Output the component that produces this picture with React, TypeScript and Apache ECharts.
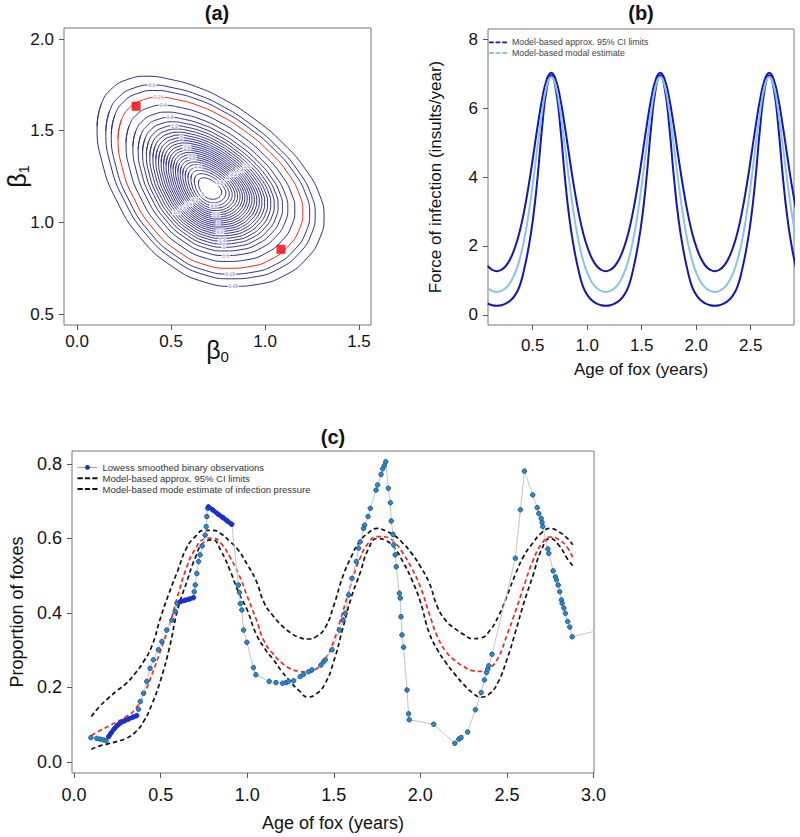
import React, { useEffect, useRef } from "react";
import * as echarts from "echarts";

const FONT = "'Liberation Sans', Arial, Helvetica, sans-serif";

// ---------- Panel (a): likelihood contours ----------
const contourCenter = [0.707, 1.18];
const contourPeak = 5.25;
const contourLevels = [0.05, 0.1, 0.15, 0.24, 0.4, 0.6, 0.8, 1, 1.2, 1.4, 1.6, 1.8, 2, 2.2, 2.4, 2.6, 2.8, 3, 3.2, 3.4, 3.6, 3.8, 4, 4.2, 4.4, 4.6, 4.8, 5];
const highlightLevel = 0.24;
// which contour labels sit on which side of the peak
const labelTopLevels = [0.1, 0.24, 0.4, 0.8, 1.2, 2, 2.8, 3.6, 4.4];
const labelBottomLevels = [0.05, 0.15, 0.6, 1, 1.4, 2.2, 3, 3.8, 4.6];
const labelUpperRightLevels = [1.6, 2.4, 3.2, 4, 4.8];
const labelLowerLeftLevels = [1.8, 2.6, 3.4, 4.2, 5];
// outermost (0.05) contour
const outerBeta0 = [0.106, 0.128, 0.186, 0.271, 0.372, 0.495, 0.628, 0.771, 0.931, 1.096, 1.223, 1.293, 1.314, 1.293, 1.223, 1.106, 0.963, 0.83, 0.681, 0.505, 0.335, 0.207, 0.133];
const outerBeta1 = [1.524, 1.644, 1.731, 1.78, 1.797, 1.78, 1.742, 1.676, 1.573, 1.431, 1.278, 1.142, 1.033, 0.918, 0.804, 0.711, 0.662, 0.651, 0.673, 0.76, 0.918, 1.125, 1.327];
const ciBeta0 = [0.314, 1.085];
const ciBeta1 = [1.633, 0.853];

// ---------- Panel (b): force of infection ----------
const ageB = [0.0867, 0.1283, 0.17, 0.2117, 0.2533, 0.295, 0.3367, 0.3783, 0.42, 0.4617, 0.5033, 0.545, 0.5867, 0.6283, 0.67, 0.7117, 0.7533, 0.795, 0.8367, 0.8783, 0.92, 0.9617, 1.0033, 1.045, 1.0867, 1.1283, 1.17, 1.2117, 1.2533, 1.295, 1.3367, 1.3783, 1.42, 1.4617, 1.5033, 1.545, 1.5867, 1.6283, 1.67, 1.7117, 1.7533, 1.795, 1.8367, 1.8783, 1.92, 1.9617, 2.0033, 2.045, 2.0867, 2.1283, 2.17, 2.2117, 2.2533, 2.295, 2.3367, 2.3783, 2.42, 2.4617, 2.5033, 2.545, 2.5867, 2.6283, 2.67, 2.7117, 2.7533, 2.795, 2.8367, 2.8783, 2.92];
const foiUpper = [1.42, 1.31, 1.27, 1.31, 1.42, 1.63, 1.95, 2.39, 2.99, 3.73, 4.58, 5.47, 6.26, 6.82,
  7.02, 6.82, 6.26, 5.47, 4.58, 3.73, 2.99, 2.39, 1.95, 1.63, 1.42, 1.31, 1.27,
  1.31, 1.42, 1.63, 1.95, 2.39, 2.99, 3.73, 4.58, 5.47, 6.26, 6.82,
  7.02, 6.82, 6.26, 5.47, 4.58, 3.73, 2.99, 2.39, 1.95, 1.63, 1.42, 1.31, 1.27,
  1.31, 1.42, 1.63, 1.95, 2.39, 2.99, 3.73, 4.58, 5.47, 6.26, 6.82,
  7.02, 6.82, 6.26, 5.47, 4.58, 3.73, 2.99];
const foiMode = [0.78, 0.7, 0.67, 0.7, 0.78, 0.94, 1.2, 1.59, 2.15, 2.91, 3.85, 4.9, 5.9, 6.63,
  6.9, 6.63, 5.9, 4.9, 3.85, 2.91, 2.15, 1.59, 1.2, 0.94, 0.78, 0.7, 0.67,
  0.7, 0.78, 0.94, 1.2, 1.59, 2.15, 2.91, 3.85, 4.9, 5.9, 6.63,
  6.9, 6.63, 5.9, 4.9, 3.85, 2.91, 2.15, 1.59, 1.2, 0.94, 0.78, 0.7, 0.67,
  0.7, 0.78, 0.94, 1.2, 1.59, 2.15, 2.91, 3.85, 4.9, 5.9, 6.63,
  6.9, 6.63, 5.9, 4.9, 3.85, 2.91, 2.15];
const foiLower = [0.33, 0.285, 0.27, 0.285, 0.33, 0.42, 0.57, 0.82, 1.3, 1.95, 2.8, 4.0, 5.45, 6.55,
  6.95, 6.55, 5.45, 4.0, 2.8, 1.95, 1.3, 0.82, 0.57, 0.42, 0.33, 0.285, 0.27,
  0.285, 0.33, 0.42, 0.57, 0.82, 1.3, 1.95, 2.8, 4.0, 5.45, 6.55,
  6.95, 6.55, 5.45, 4.0, 2.8, 1.95, 1.3, 0.82, 0.57, 0.42, 0.33, 0.285, 0.27,
  0.285, 0.33, 0.42, 0.57, 0.82, 1.3, 1.95, 2.8, 4.0, 5.45, 6.55,
  6.95, 6.55, 5.45, 4.0, 2.8, 1.95, 1.3];

// ---------- Panel (c): proportion of foxes ----------
const ageC = [0.1, 0.15, 0.2, 0.25, 0.3, 0.35, 0.4, 0.45, 0.5, 0.55, 0.6, 0.65, 0.7, 0.75, 0.8, 0.85, 0.9, 0.95, 1.0, 1.05, 1.1, 1.15, 1.2, 1.25, 1.3, 1.35, 1.4, 1.45, 1.5, 1.55, 1.6, 1.65, 1.7, 1.75, 1.8, 1.85, 1.9, 1.95, 2.0, 2.05, 2.1, 2.15, 2.2, 2.25, 2.3, 2.35, 2.4, 2.45, 2.5, 2.55, 2.6, 2.65, 2.7, 2.75, 2.8, 2.85, 2.88];
const propUpper = [0.122, 0.15, 0.172, 0.192, 0.21, 0.236, 0.268, 0.312, 0.388, 0.455, 0.515, 0.575, 0.605, 0.622, 0.622, 0.612, 0.592, 0.568, 0.53, 0.488, 0.425, 0.392, 0.366, 0.347, 0.334, 0.33, 0.337, 0.36, 0.42, 0.495, 0.55, 0.592, 0.615, 0.627, 0.62, 0.608, 0.587, 0.56, 0.525, 0.482, 0.415, 0.378, 0.358, 0.342, 0.331, 0.333, 0.352, 0.39, 0.445, 0.505, 0.555, 0.588, 0.615, 0.627, 0.618, 0.6, 0.583];
const propMode = [0.071, 0.084, 0.096, 0.108, 0.121, 0.14, 0.178, 0.235, 0.3, 0.366, 0.448, 0.522, 0.572, 0.598, 0.601, 0.586, 0.55, 0.505, 0.445, 0.385, 0.322, 0.29, 0.266, 0.25, 0.243, 0.241, 0.25, 0.275, 0.325, 0.4, 0.478, 0.545, 0.588, 0.605, 0.604, 0.59, 0.56, 0.52, 0.47, 0.4, 0.335, 0.295, 0.272, 0.256, 0.245, 0.243, 0.252, 0.28, 0.34, 0.405, 0.475, 0.54, 0.585, 0.604, 0.597, 0.575, 0.548];
const propLower = [0.034, 0.043, 0.049, 0.055, 0.063, 0.078, 0.107, 0.155, 0.22, 0.305, 0.412, 0.482, 0.548, 0.59, 0.596, 0.565, 0.515, 0.455, 0.408, 0.345, 0.305, 0.275, 0.243, 0.215, 0.191, 0.174, 0.183, 0.21, 0.27, 0.355, 0.44, 0.505, 0.572, 0.6, 0.595, 0.575, 0.537, 0.49, 0.43, 0.348, 0.3, 0.265, 0.235, 0.208, 0.186, 0.174, 0.183, 0.215, 0.275, 0.35, 0.43, 0.5, 0.57, 0.6, 0.582, 0.545, 0.527];
const lowessAge = [0.097, 0.131, 0.15, 0.169, 0.185, 0.2, 0.215, 0.232, 0.25, 0.266, 0.29, 0.315, 0.34, 0.362, 0.372, 0.382, 0.401, 0.42, 0.439, 0.458, 0.487, 0.507, 0.535, 0.565, 0.584, 0.594, 0.613, 0.64, 0.665, 0.69, 0.694, 0.7, 0.709, 0.719, 0.728, 0.74, 0.757, 0.763, 0.767, 0.771, 0.776, 0.8, 0.83, 0.86, 0.885, 0.911, 0.949, 0.955, 0.96, 0.969, 0.979, 0.998, 1.036, 1.05, 1.127, 1.166, 1.204, 1.225, 1.239, 1.268, 1.306, 1.325, 1.354, 1.374, 1.426, 1.441, 1.451, 1.49, 1.534, 1.553, 1.566, 1.586, 1.605, 1.63, 1.643, 1.653, 1.672, 1.678, 1.698, 1.711, 1.744, 1.753, 1.773, 1.782, 1.792, 1.8, 1.815, 1.827, 1.832, 1.842, 1.846, 1.855, 1.861, 1.879, 1.884, 1.888, 1.894, 1.903, 1.923, 1.932, 1.936, 2.077, 2.199, 2.222, 2.235, 2.273, 2.318, 2.351, 2.37, 2.382, 2.389, 2.395, 2.414, 2.549, 2.578, 2.601, 2.649, 2.675, 2.684, 2.698, 2.703, 2.707, 2.736, 2.742, 2.767, 2.78, 2.786, 2.796, 2.805, 2.815, 2.819, 2.829, 2.838, 2.851, 2.863, 2.877, 3.08];
const lowessProp = [0.065, 0.063, 0.061, 0.059, 0.057, 0.068, 0.078, 0.089, 0.098, 0.104, 0.11, 0.115, 0.12, 0.124, 0.141, 0.162, 0.184, 0.216, 0.251, 0.274, 0.301, 0.323, 0.354, 0.381, 0.404, 0.426, 0.43, 0.434, 0.437, 0.441, 0.457, 0.475, 0.506, 0.538, 0.556, 0.58, 0.609, 0.632, 0.659, 0.681, 0.685, 0.677, 0.666, 0.656, 0.647, 0.638, 0.475, 0.455, 0.425, 0.408, 0.354, 0.321, 0.253, 0.234, 0.216, 0.213, 0.211, 0.213, 0.216, 0.218, 0.229, 0.235, 0.242, 0.247, 0.26, 0.269, 0.274, 0.301, 0.354, 0.381, 0.399, 0.448, 0.493, 0.538, 0.574, 0.591, 0.627, 0.636, 0.659, 0.681, 0.73, 0.744, 0.772, 0.787, 0.796, 0.806, 0.735, 0.696, 0.647, 0.611, 0.583, 0.556, 0.524, 0.453, 0.44, 0.39, 0.341, 0.308, 0.193, 0.129, 0.113, 0.101, 0.05, 0.061, 0.065, 0.08, 0.14, 0.186, 0.22, 0.24, 0.249, 0.258, 0.289, 0.547, 0.677, 0.781, 0.717, 0.683, 0.667, 0.654, 0.643, 0.632, 0.572, 0.56, 0.513, 0.497, 0.489, 0.475, 0.457, 0.435, 0.426, 0.413, 0.399, 0.377, 0.362, 0.336, 0.359];
// age ranges where observations are so dense that they merge into a thick run
const denseRuns = [[0.2, 0.362], [0.613, 0.69], [0.776, 0.911]];

// tick labels
const ticksAX = [0, 0.5, 1, 1.5];
const ticksAY = [0.5, 1, 1.5, 2];
const ticksBX = [0.5, 1, 1.5, 2, 2.5];
const ticksBY = [0, 2, 4, 6, 8];
const ticksCX = [0, 0.5, 1, 1.5, 2, 2.5, 3];
const ticksCY = [0, 0.2, 0.4, 0.6, 0.8];

const NAME_CI = "Model-based approx. 95% CI limits";
const NAME_MODAL = "Model-based modal estimate";
const NAME_LOWESS = "Lowess smoothed binary observations";
const NAME_MODE_C = "Model-based mode estimate of infection pressure";

const NAVY = "#2d2d8c";
const RED = "#ee2a1e";
const DARKBLUE = "#1515b4";
const LIGHTBLUE = "#86c5e8";
const DASH_ICON = "path://M0,0h5v2h-5z M7,0h5v2h-5z M14,0h5v2h-5z";

function zip(xs: number[], ys: number[]) {
  return xs.map((x, i) => [x, ys[i]]);
}

function axisBase(ticks: number[], fontSize: number, margin: number, fmt: (v: number) => string) {
  return {
    type: "value" as const,
    nameMoveOverlap: false,
    axisLine: { show: false, onZero: false },
    axisTick: { show: true, inside: false, length: 5, lineStyle: { color: "#555", width: 1 }, customValues: ticks },
    axisLabel: { show: true, color: "#111", fontSize, fontFamily: FONT, margin, customValues: ticks, formatter: (v: number) => fmt(v) },
    splitLine: { show: false },
  };
}

function buildOption() {
  const [cx, cy] = contourCenter;
  const base = Math.log(contourPeak / contourLevels[0]);
  const scaleFor = (lv: number) => Math.sqrt(Math.log(contourPeak / lv) / base);
  const outer = zip(outerBeta0, outerBeta1);

  const contourSeries: any[] = contourLevels.map((lv) => {
    const s = scaleFor(lv);
    const pts = outer.map(([x, y]) => [cx + s * (x - cx), cy + s * (y - cy)]);
    const loop = [...pts, pts[0], pts[1]];
    return {
      type: "line",
      xAxisIndex: 0,
      yAxisIndex: 0,
      data: loop,
      smooth: 0.5,
      symbol: "none",
      silent: true,
      lineStyle: { color: lv === highlightLevel ? RED : NAVY, width: 1 },
      z: 2,
    };
  });

  const rayIndex = (lv: number) => {
    if (labelTopLevels.includes(lv)) return 4;
    if (labelBottomLevels.includes(lv)) return 17;
    if (labelUpperRightLevels.includes(lv)) return 9;
    if (labelLowerLeftLevels.includes(lv)) return 20;
    return 17;
  };
  const labelData = contourLevels.map((lv) => {
    const s = scaleFor(lv);
    const p = outer[rayIndex(lv)];
    return {
      name: String(lv),
      value: [cx + s * (p[0] - cx), cy + s * (p[1] - cy)],
      label: { color: lv === highlightLevel ? "#e86a6a" : "#7070b0" },
    };
  });

  const denseSeries = denseRuns.map(([a, b]) => ({
    type: "line",
    xAxisIndex: 2,
    yAxisIndex: 2,
    data: zip(lowessAge, lowessProp).filter(([x]) => x >= a - 1e-9 && x <= b + 1e-9),
    symbol: "none",
    silent: true,
    lineStyle: { color: "#1a2fd0", width: 4.5, cap: "round" },
    z: 4,
  }));

  const fmt1 = (v: number) => v.toFixed(1);
  const fmt0 = (v: number) => String(Math.round(v));
  const betaRich = {
    b: { fontSize: 25, lineHeight: 28, fontFamily: FONT, color: "#111" },
    s: { fontSize: 15, lineHeight: 16, verticalAlign: "bottom", fontFamily: FONT, color: "#111" },
  };

  return {
    animation: false,
    backgroundColor: "#ffffff",
    textStyle: { fontFamily: FONT },
    title: [
      { text: "(a)", left: 217, top: 3, textAlign: "center", padding: 0, textStyle: { fontSize: 20, fontWeight: "bold", color: "#111", fontFamily: FONT } },
      { text: "(b)", left: 641, top: 3, textAlign: "center", padding: 0, textStyle: { fontSize: 20, fontWeight: "bold", color: "#111", fontFamily: FONT } },
      { text: "(c)", left: 333, top: 427, textAlign: "center", padding: 0, textStyle: { fontSize: 20, fontWeight: "bold", color: "#111", fontFamily: FONT } },
    ],
    legend: [
      {
        orient: "vertical",
        left: 489,
        top: 37,
        padding: 0,
        itemGap: 0,
        itemWidth: 18,
        itemHeight: 6,
        textStyle: { fontSize: 8.8, color: "#444", fontFamily: FONT, lineHeight: 10.7 },
        data: [
          { name: NAME_CI, icon: DASH_ICON, itemStyle: { color: DARKBLUE, borderWidth: 0 } },
          { name: NAME_MODAL, icon: DASH_ICON, itemStyle: { color: LIGHTBLUE, borderWidth: 0 } },
        ],
      },
      {
        orient: "vertical",
        left: 77,
        top: 462,
        padding: 0,
        itemGap: 0,
        itemWidth: 20,
        itemHeight: 6,
        textStyle: { fontSize: 9.5, color: "#333", fontFamily: FONT, lineHeight: 10.8 },
        data: [
          { name: NAME_LOWESS, itemStyle: { color: "#1a2fd0", borderWidth: 0 }, lineStyle: { color: "#9a9a9a", width: 1 } },
          { name: NAME_CI, icon: DASH_ICON, itemStyle: { color: "#111", borderWidth: 0 } },
          { name: NAME_MODE_C, icon: DASH_ICON, itemStyle: { color: "#111", borderWidth: 0 } },
        ],
      },
    ],
    grid: [
      { left: 64, top: 28, width: 307, height: 297, show: true, borderColor: "#777", borderWidth: 1, backgroundColor: "transparent" },
      { left: 488, top: 29, width: 306, height: 296, show: true, borderColor: "#777", borderWidth: 1, backgroundColor: "transparent" },
      { left: 72, top: 451, width: 522, height: 322, show: true, borderColor: "#777", borderWidth: 1, backgroundColor: "transparent" },
    ],
    xAxis: [
      {
        ...axisBase(ticksAX, 17, 8, fmt1),
        gridIndex: 0,
        min: -0.07,
        max: 1.564,
        name: "{b|β}{s|0}",
        nameLocation: "middle",
        nameGap: 11,
        nameTextStyle: { color: "#111", rich: betaRich },
      },
      {
        ...axisBase(ticksBX, 17, 12, fmt1),
        gridIndex: 1,
        min: 0.09,
        max: 2.897,
        name: "Age of fox (years)",
        nameLocation: "middle",
        nameGap: 36,
        nameTextStyle: { fontSize: 17, color: "#111", fontFamily: FONT },
      },
      {
        ...axisBase(ticksCX, 18, 13, fmt1),
        gridIndex: 2,
        min: -0.012,
        max: 3.003,
        name: "Age of fox (years)",
        nameLocation: "middle",
        nameGap: 41,
        nameTextStyle: { fontSize: 18, color: "#111", fontFamily: FONT },
      },
    ],
    yAxis: [
      {
        ...axisBase(ticksAY, 17, 10, fmt1),
        gridIndex: 0,
        min: 0.44,
        max: 2.06,
        name: "{b|β}{s|1}",
        nameLocation: "middle",
        nameGap: 33,
        nameTextStyle: { color: "#111", rich: betaRich },
      },
      {
        ...axisBase(ticksBY, 17, 10, fmt0),
        gridIndex: 1,
        min: -0.29,
        max: 8.29,
        name: "Force of infection (insults/year)",
        nameLocation: "middle",
        nameGap: 44,
        nameTextStyle: { fontSize: 17, color: "#111", fontFamily: FONT },
      },
      {
        ...axisBase(ticksCY, 18, 10, fmt1),
        gridIndex: 2,
        min: -0.03,
        max: 0.835,
        name: "Proportion of foxes",
        nameLocation: "middle",
        nameGap: 46,
        nameTextStyle: { fontSize: 18, color: "#111", fontFamily: FONT },
      },
    ],
    series: [
      ...contourSeries,
      {
        type: "scatter",
        xAxisIndex: 0,
        yAxisIndex: 0,
        data: labelData,
        symbolSize: 1,
        itemStyle: { color: "rgba(0,0,0,0)" },
        silent: true,
        z: 3,
        label: {
          show: true,
          position: "inside",
          formatter: "{b}",
          fontSize: 5,
          lineHeight: 5.5,
          fontFamily: FONT,
          backgroundColor: "#ffffff",
          padding: [0, 1],
        },
      },
      {
        type: "scatter",
        xAxisIndex: 0,
        yAxisIndex: 0,
        data: zip(ciBeta0, ciBeta1),
        symbol: "rect",
        symbolSize: 9,
        itemStyle: { color: "#f00000" },
        silent: true,
        z: 5,
      },
      // panel (b)
      {
        name: NAME_CI,
        type: "line",
        xAxisIndex: 1,
        yAxisIndex: 1,
        data: zip(ageB, foiUpper),
        smooth: true,
        symbol: "none",
        lineStyle: { color: DARKBLUE, width: 2 },
        itemStyle: { color: DARKBLUE },
      },
      {
        name: NAME_CI,
        type: "line",
        xAxisIndex: 1,
        yAxisIndex: 1,
        data: zip(ageB, foiLower),
        smooth: true,
        symbol: "none",
        lineStyle: { color: DARKBLUE, width: 2 },
        itemStyle: { color: DARKBLUE },
      },
      {
        name: NAME_MODAL,
        type: "line",
        xAxisIndex: 1,
        yAxisIndex: 1,
        data: zip(ageB, foiMode),
        smooth: true,
        symbol: "none",
        lineStyle: { color: LIGHTBLUE, width: 2 },
        itemStyle: { color: LIGHTBLUE },
      },
      // panel (c)
      {
        name: NAME_CI,
        type: "line",
        xAxisIndex: 2,
        yAxisIndex: 2,
        data: zip(ageC, propUpper),
        smooth: true,
        symbol: "none",
        lineStyle: { color: "#111", width: 1.7, type: [4.5, 3] },
        itemStyle: { color: "#111" },
      },
      {
        name: NAME_CI,
        type: "line",
        xAxisIndex: 2,
        yAxisIndex: 2,
        data: zip(ageC, propLower),
        smooth: true,
        symbol: "none",
        lineStyle: { color: "#111", width: 1.7, type: [4.5, 3] },
        itemStyle: { color: "#111" },
      },
      {
        name: NAME_MODE_C,
        type: "line",
        xAxisIndex: 2,
        yAxisIndex: 2,
        data: zip(ageC, propMode),
        smooth: true,
        symbol: "none",
        lineStyle: { color: RED, width: 1.7, type: [4.5, 3] },
        itemStyle: { color: RED },
      },
      {
        name: NAME_LOWESS,
        type: "line",
        xAxisIndex: 2,
        yAxisIndex: 2,
        data: zip(lowessAge, lowessProp),
        symbol: "circle",
        symbolSize: 4.5,
        showSymbol: true,
        showAllSymbol: true,
        lineStyle: { color: "#c4c4c4", width: 1 },
        itemStyle: { color: "#2b8fae", borderColor: "#2050c0", borderWidth: 1 },
        z: 3,
      },
      ...denseSeries,
    ],
  };
}

export default function App() {
  const ref = useRef<HTMLDivElement>(null);
  useEffect(() => {
    if (!ref.current) return;
    const chart = echarts.init(ref.current, null, { renderer: "svg" });
    chart.setOption(buildOption() as any);
    return () => chart.dispose();
  }, []);
  return (
    <div
      ref={ref}
      style={{ position: "absolute", left: 0, top: 0, width: 800, height: 837, background: "#fff" }}
    />
  );
}
